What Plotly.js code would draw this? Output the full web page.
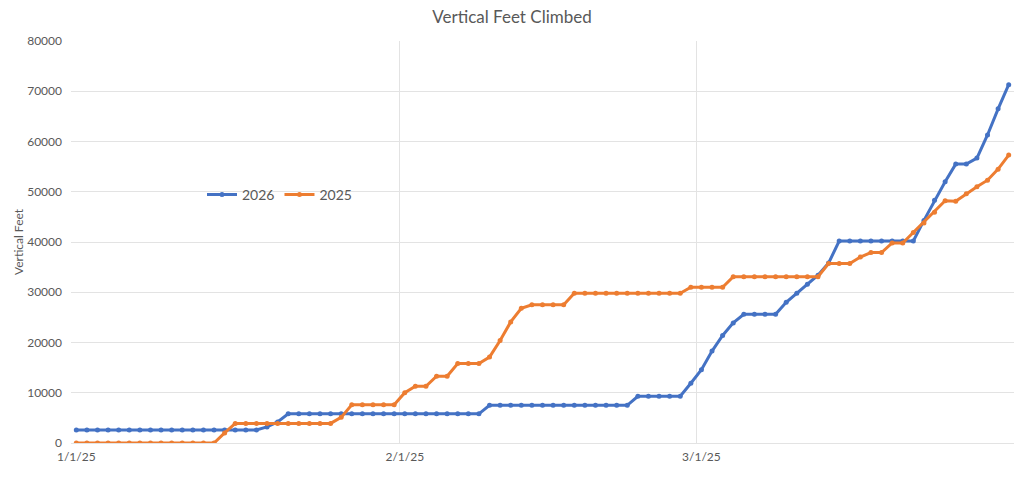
<!DOCTYPE html>
<html>
<head>
<meta charset="utf-8">
<script src="https://cdn.plot.ly/plotly-3.0.1.min.js"></script>
<style>
html,body{margin:0;padding:0;background:#fff;}
#chart{width:1024px;height:477px;}
</style>
</head>
<body>
<div id="chart"></div>
<script>
// Days plotted (Jan 1 - Mar 30, 2025)
var dayCount = 89;
var dates = [];
(function(){
  var d = new Date(Date.UTC(2025,0,1));
  for (var i = 0; i < dayCount; i++) {
    dates.push(d.toISOString().slice(0,10));
    d.setUTCDate(d.getUTCDate() + 1);
  }
})();

var series2026 = [
  2600,2600,2600,2600,2600,2600,2600,2600,2600,2600,
  2600,2600,2600,2600,2600,2600,2600,2600,3200,4200,
  5800,5800,5800,5800,5800,5800,5800,5800,5800,5800,
  5800,5800,5800,5800,5800,5800,5800,5800,5800,7500,
  7500,7500,7500,7500,7500,7500,7500,7500,7500,7500,
  7500,7500,7500,9300,9300,9300,9300,9300,11900,14600,
  18300,21400,23900,25600,25600,25600,25600,28000,29800,31600,
  33400,35800,40200,40200,40200,40200,40200,40200,40200,40200,
  44300,48300,52000,55500,55500,56700,61300,66500,71300
];

var series2025 = [
  0,0,0,0,0,0,0,0,0,0,
  0,0,0,0,2000,3900,3900,3900,3900,3900,
  3900,3900,3900,3900,3900,5100,7600,7600,7600,7600,
  7600,10000,11300,11300,13300,13300,15800,15800,15800,17100,
  20400,24100,26800,27500,27500,27500,27500,29800,29800,29800,
  29800,29800,29800,29800,29800,29800,29800,29800,31000,31000,
  31000,31000,33100,33100,33100,33100,33100,33100,33100,33100,
  33100,35700,35700,35700,37000,37900,37900,39800,39800,41900,
  43800,45900,48200,48100,49600,51000,52300,54500,57300
];

var seriesNames = ['2026', '2025'];
var tickVals = ['2025-01-01', '2025-02-01', '2025-03-01'];
var tickText = ['1/1/25', '2/1/25', '3/1/25'];
var monthBounds = ['2024-12-31 12:00', '2025-01-31 12:00', '2025-02-28 12:00'];

var FONT = 'Lato, "Open Sans", sans-serif';
var TXT = '#595959';
var GRID = '#e3e3e3';

var traces = [
  {
    x: dates, y: series2026, name: seriesNames[0], type: 'scatter', mode: 'lines+markers',
    line: {color: '#4472C4', width: 3},
    marker: {color: '#4472C4', size: 5}
  },
  {
    x: dates, y: series2025, name: seriesNames[1], type: 'scatter', mode: 'lines+markers',
    line: {color: '#ED7D31', width: 3},
    marker: {color: '#ED7D31', size: 5}
  }
];

var layout = {
  width: 1024, height: 477,
  margin: {l: 71, r: 10, t: 41, b: 34},
  paper_bgcolor: '#fff', plot_bgcolor: '#fff',
  font: {family: FONT, color: TXT, size: 12},
  title: {
    text: 'Vertical Feet Climbed',
    font: {family: FONT, size: 17, color: TXT},
    x: 0.5, xref: 'container', xanchor: 'center',
    y: 1 - 17/477, yref: 'container', yanchor: 'middle'
  },
  xaxis: {
    type: 'date',
    range: ['2024-12-31 12:00', '2025-03-30 12:00'],
    tickvals: tickVals, ticktext: tickText,
    showgrid: false, zeroline: false, showline: false,
    ticks: '', ticklabelstandoff: 5,
    tickfont: {family: FONT, size: 12, color: TXT},
    minor: {tickvals: monthBounds, showgrid: true, gridcolor: GRID, gridwidth: 1, ticks: ''}
  },
  yaxis: {
    range: [0, 80000],
    tickvals: [0,10000,20000,30000,40000,50000,60000,70000,80000],
    tickformat: 'd',
    showgrid: true, gridcolor: GRID, gridwidth: 1,
    zeroline: true, zerolinecolor: GRID, zerolinewidth: 1,
    showline: false, ticks: '', ticklabelstandoff: 8,
    tickfont: {family: FONT, size: 12, color: TXT},
    title: {text: 'Vertical Feet', font: {family: FONT, size: 12, color: TXT}, standoff: 0}
  },
  showlegend: true,
  legend: {
    orientation: 'h',
    x: (202 - 71) / 943, xanchor: 'left',
    y: (443.5 - 195) / 402.5, yanchor: 'middle',
    bgcolor: 'rgba(0,0,0,0)',
    font: {family: FONT, size: 14, color: TXT},
    traceorder: 'normal'
  }
};

Plotly.newPlot('chart', traces, layout, {displayModeBar: false, staticPlot: true});
</script>
</body>
</html>
